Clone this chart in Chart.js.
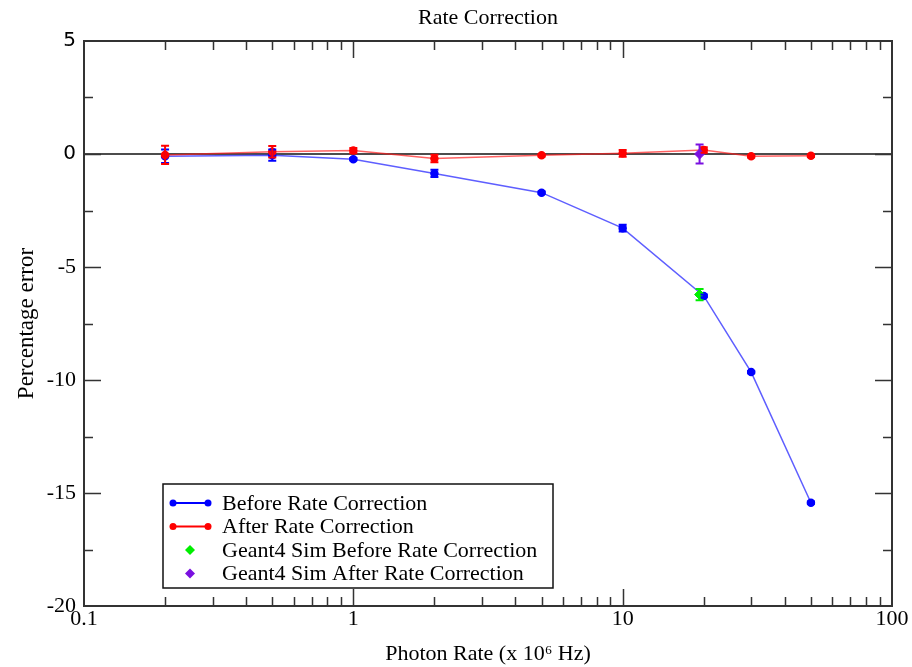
<!DOCTYPE html>
<html>
<head>
<meta charset="utf-8">
<title>Rate Correction</title>
<script src="https://cdn.jsdelivr.net/npm/chart.js@4.4.1/dist/chart.umd.min.js"></script>
<style>
  html, body { margin: 0; padding: 0; background: #fff; }
</style>
</head>
<body>
<canvas id="rate-chart" width="912" height="667"></canvas>
<script>
// photon rate in units of 10^6 Hz
const rates = [0.2, 0.5, 1, 2, 5, 10, 20, 30, 50];
const beforeErr = [-0.1, -0.05, -0.23, -0.86, -1.71, -3.28, -6.28, -9.65, -15.43];
const beforeErrBar = [0.3, 0.25, 0.05, 0.16, 0.05, 0.15, 0.06, 0.05, 0.05];
const afterErr = [-0.04, 0.1, 0.15, -0.2, -0.06, 0.03, 0.18, -0.1, -0.08];
const afterErrBar = [0.4, 0.25, 0.12, 0.17, 0.05, 0.15, 0.12, 0.05, 0.05];

// Geant4 simulation points
const simRate = [19.3];
const simBefore = [-6.22];
const simBeforeBar = [0.25];
const simAfter = [0.0];
const simAfterBar = [0.42];

const xMajor = [0.1, 1, 10, 100];
const yMajor = [-20, -15, -10, -5, 0, 5];

const SERIF = "'Liberation Serif', 'Times New Roman', serif";

function pts(xs, ys) {
  return xs.map((x, i) => ({ x: x, y: ys[i] }));
}

// error bars, zero line, frame with inward ticks, title and boxed legend
const decorations = {
  id: "decorations",
  beforeDatasetsDraw(chart) {
    const { ctx, chartArea: a, scales } = chart;
    const y0 = scales.y.getPixelForValue(0);
    ctx.save();
    ctx.strokeStyle = "#111";
    ctx.lineWidth = 1.5;
    ctx.beginPath();
    ctx.moveTo(a.left, y0);
    ctx.lineTo(a.right, y0);
    ctx.stroke();
    ctx.restore();
  },
  afterDatasetsDraw(chart) {
    const { ctx, chartArea: a, scales } = chart;
    const xs = scales.x, ys = scales.y;
    ctx.save();
    chart.data.datasets.forEach((ds) => {
      if (!ds.errors) return;
      ctx.strokeStyle = ds.pointBackgroundColor;
      ctx.lineWidth = 2;
      ds.data.forEach((p, j) => {
        const x = xs.getPixelForValue(p.x);
        const hi = ys.getPixelForValue(p.y + ds.errors[j]);
        const lo = ys.getPixelForValue(p.y - ds.errors[j]);
        ctx.beginPath();
        ctx.moveTo(x, hi); ctx.lineTo(x, lo);
        ctx.moveTo(x - 4, hi); ctx.lineTo(x + 4, hi);
        ctx.moveTo(x - 4, lo); ctx.lineTo(x + 4, lo);
        ctx.stroke();
      });
    });

    // frame
    ctx.strokeStyle = "#333";
    ctx.lineWidth = 2;
    ctx.strokeRect(a.left, a.top, a.right - a.left, a.bottom - a.top);

    // inward ticks on all four sides
    ctx.lineWidth = 1.5;
    ctx.beginPath();
    for (let d = 0.1; d < 100; d *= 10) {
      for (let k = 1; k <= 10; k++) {
        const v = d * k;
        if (v <= 0.1 || v >= 100) continue;
        const len = k === 10 ? 17 : 9;
        const x = Math.round(xs.getPixelForValue(v)) + 0.5;
        ctx.moveTo(x, a.bottom); ctx.lineTo(x, a.bottom - len);
        ctx.moveTo(x, a.top); ctx.lineTo(x, a.top + len);
      }
    }
    for (let v = -17.5; v < 5; v += 2.5) {
      const major = v % 5 === 0;
      const len = major ? 17 : 9;
      const y = Math.round(ys.getPixelForValue(v)) + 0.5;
      ctx.moveTo(a.left, y); ctx.lineTo(a.left + len, y);
      ctx.moveTo(a.right, y); ctx.lineTo(a.right - len, y);
    }
    ctx.stroke();
    ctx.restore();
  },
  afterDraw(chart) {
    const { ctx, chartArea: a } = chart;
    ctx.save();
    ctx.fillStyle = "#000";
    ctx.font = "22px " + SERIF;
    ctx.textAlign = "center";
    ctx.textBaseline = "middle";
    ctx.fillText("Rate Correction", (a.left + a.right) / 2, 18);

    // legend box
    const bx = 163, by = 484, bw = 390, bh = 104;
    ctx.fillStyle = "#fff";
    ctx.fillRect(bx, by, bw, bh);
    ctx.strokeStyle = "#111";
    ctx.lineWidth = 1.5;
    ctx.strokeRect(bx, by, bw, bh);

    ctx.textAlign = "left";
    chart.data.datasets.forEach((ds, i) => {
      const y = by + 19 + i * 23.5;
      const c = ds.pointBackgroundColor;
      ctx.fillStyle = c;
      if (ds.showLine) {
        ctx.strokeStyle = c;
        ctx.lineWidth = 2;
        ctx.beginPath();
        ctx.moveTo(173, y); ctx.lineTo(208, y);
        ctx.stroke();
        [173, 208].forEach((x) => {
          ctx.beginPath();
          ctx.arc(x, y, 3.5, 0, Math.PI * 2);
          ctx.fill();
        });
      } else {
        ctx.beginPath();
        ctx.moveTo(190, y - 5); ctx.lineTo(195, y);
        ctx.lineTo(190, y + 5); ctx.lineTo(185, y);
        ctx.closePath();
        ctx.fill();
      }
      ctx.fillStyle = "#000";
      ctx.fillText(ds.label, 222, y + 1);
    });
    ctx.restore();
  }
};

new Chart(document.getElementById("rate-chart"), {
  type: "scatter",
  data: {
    datasets: [
      {
        label: "Before Rate Correction",
        data: pts(rates, beforeErr),
        errors: beforeErrBar,
        showLine: true,
        borderColor: "rgba(40, 40, 255, 0.75)",
        borderWidth: 1.5,
        pointBackgroundColor: "#0000ff",
        pointBorderColor: "#0000ff",
        pointRadius: 3.5,
        order: 3,
      },
      {
        label: "After Rate Correction",
        data: pts(rates, afterErr),
        errors: afterErrBar,
        showLine: true,
        borderColor: "rgba(255, 30, 30, 0.7)",
        borderWidth: 1.5,
        pointBackgroundColor: "#ff0000",
        pointBorderColor: "#ff0000",
        pointRadius: 3.5,
        order: 2,
      },
      {
        label: "Geant4 Sim Before Rate Correction",
        data: pts(simRate, simBefore),
        errors: simBeforeBar,
        showLine: false,
        pointStyle: "rectRot",
        pointBackgroundColor: "#00ee00",
        pointBorderColor: "#00ee00",
        pointRadius: 5,
        order: 1,
      },
      {
        label: "Geant4 Sim After Rate Correction",
        data: pts(simRate, simAfter),
        errors: simAfterBar,
        showLine: false,
        pointStyle: "rectRot",
        pointBackgroundColor: "#7a10e0",
        pointBorderColor: "#7a10e0",
        pointRadius: 5,
        order: 0,
      },
    ],
  },
  options: {
    responsive: false,
    animation: false,
    layout: { padding: { top: 41, right: 20, left: 0, bottom: 0 } },
    plugins: {
      legend: { display: false },
      tooltip: { enabled: false },
    },
    scales: {
      x: {
        type: "logarithmic",
        min: 0.1,
        max: 100,
        grid: { display: false, drawTicks: false },
        border: { display: false },
        afterBuildTicks: (s) => { s.ticks = xMajor.map((v) => ({ value: v })); },
        afterFit: (s) => { s.height = 61; },
        ticks: {
          autoSkip: false,
          maxRotation: 0,
          padding: 0,
          color: "#000",
          font: { family: SERIF, size: 22 },
          callback: (v) => String(v),
        },
        title: {
          display: true,
          text: "Photon Rate (x 10\u2076 Hz)",
          color: "#000",
          font: { family: SERIF, size: 22 },
          padding: { top: 0, bottom: 0 },
        },
      },
      y: {
        min: -20,
        max: 5,
        grid: { display: false, drawTicks: false },
        border: { display: false },
        afterBuildTicks: (s) => { s.ticks = yMajor.map((v) => ({ value: v })); },
        afterFit: (s) => { s.width = 84; },
        ticks: {
          padding: 8,
          color: "#000",
          font: (c) => c.tick && c.tick.value >= 0
            ? { family: "'DejaVu Sans', sans-serif", size: 20 }
            : { family: SERIF, size: 22 },
          callback: (v) => String(v),
        },
        title: {
          display: true,
          text: "Percentage error",
          color: "#000",
          font: { family: SERIF, size: 23 },
          padding: { top: 13, bottom: 0 },
        },
      },
    },
  },
  plugins: [decorations],
});
</script>
</body>
</html>
